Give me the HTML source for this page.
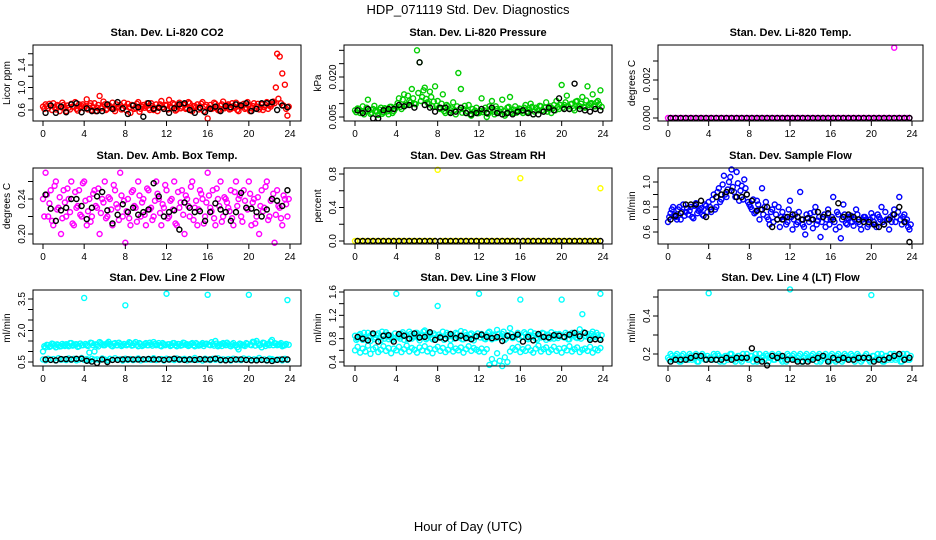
<!DOCTYPE html>
<html><head><meta charset="utf-8">
<style>
html,body{margin:0;padding:0;background:#fff;}
svg{display:block;font-family:"Liberation Sans",Arial,sans-serif;}
</style></head>
<body>
<svg id="chart" width="936" height="540" viewBox="0 0 936 540" xmlns="http://www.w3.org/2000/svg">
<text x="468" y="14" font-size="13" text-anchor="middle">HDP_071119  Std. Dev. Diagnostics</text>
<text x="468" y="531" font-size="13" text-anchor="middle">Hour of Day (UTC)</text>
<g id="panels"></g>
</svg>
<script>
// ---- shared tick data ----
const xTicks = [0,4,8,12,16,20,24];

// ---- Panel 1: CO2 ----
const co2Color = [.66,.70,.63,.68,.72,.61,.67,.65,.69,.58,.64,.71,.66,.62,.70,.67,.63,.79,.68,.60,.72,.64,.85,.66,.70,.62,.67,.73,.58,.65,.69,.63,.66,.71,.55,.68,.64,.74,.62,.69,.67,.63,.72,.60,.70,.65,.76,.62,.68,.78,.64,.70,.61,.73,.66,.69,.63,.72,.58,.67,.70,.64,.74,.66,.45,.69,.63,.71,.60,.68,.75,.65,.70,.62,.67,.73,.58,.66,.71,.64,.69,.63,.72,.66,.61,.70,.65,.74,.68,.70,.72,1.6,1.55,1.25,1.05,.50];
const co2Color2 = [.62,.67,.71,.60,.65,.69,.58,.73,.63,.68,.61,.66,.74,.59,.64,.70,.67,.61,.72,.65,.58,.69,.63,.75,.60,.68,.64,.62,.70,.66,.61,.73,.59,.65,.69,.62,.71,.57,.66,.64,.72,.60,.67,.63,.58,.70,.65,.69,.61,.66,.72,.59,.68,.63,.70,.62,.74,.60,.67,.65,.61,.71,.58,.69,.64,.62,.73,.66,.59,.70,.63,.68,.61,.72,.64,.60,.69,.66,.62,.74,.58,.67,.63,.71,.65,.60,.69,.62,.66,.75,1.0,.80,.72,.68,.62,.66];
const co2Black = [.55,.68,.55,.66,.56,.70,.72,.56,.63,.58,.58,.58,.70,.62,.74,.63,.53,.68,.65,.48,.72,.62,.64,.62,.55,.63,.70,.72,.60,.55,.64,.56,.62,.66,.58,.67,.65,.70,.68,.72,.58,.62,.72,.72,.74,.60,.68,.65];
// ---- Panel 2: Pressure ----
const presColor = [.0075,.0082,.0065,.0090,.0070,.0115,.0062,.0080,.0073,.0058,.0085,.0068,.0079,.0060,.0088,.0072,.0090,.0120,.0080,.0135,.0095,.0110,.0155,.0100,.0300,.0255,.0125,.0160,.0105,.0145,.0090,.0165,.0110,.0080,.0135,.0065,.0090,.0075,.0105,.0060,.0215,.0155,.0080,.0065,.0095,.0055,.0070,.0085,.0065,.0120,.0075,.0050,.0090,.0110,.0060,.0080,.0070,.0115,.0055,.0085,.0125,.0065,.0090,.0075,.0080,.0065,.0095,.0070,.0100,.0060,.0085,.0075,.0090,.0070,.0105,.0080,.0065,.0095,.0110,.0080,.0170,.0095,.0130,.0080,.0100,.0075,.0110,.0090,.0125,.0085,.0165,.0100,.0135,.0090,.0110,.0150];
const presColor2 = [.0068,.0080,.0072,.0060,.0085,.0075,.0066,.0092,.0070,.0078,.0062,.0083,.0071,.0088,.0065,.0080,.0102,.0088,.0115,.0095,.0130,.0105,.0120,.0098,.0140,.0110,.0150,.0118,.0098,.0125,.0108,.0092,.0085,.0100,.0072,.0095,.0068,.0082,.0076,.0090,.0078,.0066,.0092,.0072,.0060,.0080,.0074,.0064,.0072,.0068,.0085,.0062,.0078,.0070,.0090,.0065,.0080,.0072,.0062,.0088,.0070,.0078,.0066,.0082,.0072,.0085,.0068,.0078,.0088,.0070,.0080,.0092,.0076,.0085,.0070,.0090,.0082,.0075,.0088,.0095,.0085,.0105,.0090,.0098,.0082,.0108,.0092,.0100,.0088,.0112,.0095,.0102,.0090,.0105,.0098,.0088];
const presBlack = [.0075,.0065,.0080,.0045,.0045,.0075,.0080,.0080,.0095,.0090,.0095,.0085,.0255,.0095,.0085,.0070,.0085,.0085,.0065,.0070,.0085,.0065,.0060,.0065,.0080,.0065,.0085,.0065,.0060,.0065,.0060,.0070,.0075,.0065,.0060,.0060,.0070,.0085,.0075,.0120,.0080,.0080,.0175,.0080,.0075,.0070,.0080,.0075];
// ---- Panel 3: Li-820 Temp ----
const tempColor = [0,0,0,0,0,0,0,0,0,0,0,0,0,0,0,0,0,0,0,0,0,0,0,0,0,0,0,0,0,0,0,0,0,0,0,0,0,0,0,0,0,0,0,0,0,0,0,0,0,0,0,0,0,0,0,0,0,0,0,0,0,0,0,0,0,0,0,0,0,0,0,0,0,0,0,0,0,0,0,0,0,0,0,0,0,0,0,0,0,.0037,0,0,0,0,0,0];
const tempBlack = [0,0,0,0,0,0,0,0,0,0,0,0,0,0,0,0,0,0,0,0,0,0,0,0,0,0,0,0,0,0,0,0,0,0,0,0,0,0,0,0,0,0,0,0,0,0,0,0];
// ---- Panel 4: Amb Box Temp ----
const ambColor = [.24,.27,.22,.25,.21,.26,.23,.20,.25,.22,.24,.26,.21,.23,.25,.22,.26,.21,.24,.22,.25,.23,.20,.24,.26,.22,.24,.21,.25,.23,.27,.22,.19,.24,.21,.25,.23,.26,.22,.24,.21,.25,.23,.22,.26,.24,.21,.23,.25,.22,.24,.26,.21,.23,.25,.20,.24,.22,.26,.23,.21,.25,.24,.22,.27,.23,.25,.21,.24,.26,.22,.24,.23,.25,.21,.26,.24,.22,.25,.23,.26,.21,.24,.22,.20,.25,.23,.26,.22,.24,.19,.25,.23,.21,.24,.22];
const ambColor2 = [.22,.245,.235,.215,.255,.228,.242,.218,.236,.252,.225,.212,.248,.232,.222,.258,.238,.226,.214,.246,.232,.252,.224,.236,.218,.242,.228,.256,.234,.216,.244,.238,.226,.218,.248,.232,.214,.244,.236,.222,.252,.228,.216,.238,.246,.224,.234,.256,.218,.238,.228,.212,.248,.236,.222,.244,.232,.254,.216,.238,.228,.246,.212,.236,.244,.226,.218,.252,.232,.214,.242,.236,.226,.218,.248,.232,.244,.214,.238,.228,.246,.236,.212,.242,.232,.226,.254,.216,.238,.246,.222,.232,.218,.244,.234,.24];
const ambBlack = [.245,.229,.215,.227,.230,.240,.240,.232,.217,.230,.243,.248,.227,.212,.222,.234,.225,.230,.222,.225,.228,.258,.243,.220,.225,.227,.205,.236,.230,.225,.226,.215,.225,.235,.228,.225,.215,.225,.247,.230,.229,.225,.220,.228,.240,.238,.232,.250];
// ---- Panel 5: Gas Stream RH ----
const rhColor = [0,0,0,0,0,0,0,0,0,0,0,0,0,0,0,0,0,0,0,0,0,0,0,0,0,0,0,0,0,0,0,0,.85,0,0,0,0,0,0,0,0,0,0,0,0,0,0,0,0,0,0,0,0,0,0,0,0,0,0,0,0,0,0,0,.75,0,0,0,0,0,0,0,0,0,0,0,0,0,0,0,0,0,0,0,0,0,0,0,0,0,0,0,0,0,0,.63];
const rhBlack = [0,0,0,0,0,0,0,0,0,0,0,0,0,0,0,0,0,0,0,0,0,0,0,0,0,0,0,0,0,0,0,0,0,0,0,0,0,0,0,0,0,0,0,0,0,0,0,0];
// ---- Panel 6: Sample Flow ----
const sampColor = [.68,.75,.80,.72,.78,.70,.82,.76,.74,.80,.71,.83,.77,.79,.73,.81,.84,.76,.90,.80,.95,.86,1.05,.88,1.0,1.1,.92,1.08,.85,.97,1.02,.90,.82,.78,.75,.85,.70,.95,.80,.72,.66,.78,.82,.70,.64,.76,.72,.68,.85,.62,.74,.68,.92,.66,.58,.71,.75,.63,.80,.69,.56,.72,.64,.78,.70,.88,.62,.74,.55,.82,.67,.71,.73,.65,.78,.68,.62,.72,.70,.66,.75,.68,.64,.72,.80,.66,.70,.62,.68,.78,.72,.88,.66,.74,.70,.62];
const sampColor2 = [.72,.78,.74,.70,.80,.76,.73,.79,.77,.72,.81,.75,.78,.74,.82,.76,.80,.86,.78,.92,.84,.98,.90,.94,1.04,.96,.88,.99,.93,.86,.95,.84,.80,.86,.76,.82,.78,.74,.84,.70,.76,.68,.74,.80,.72,.70,.66,.78,.72,.70,.66,.76,.70,.64,.74,.68,.70,.76,.66,.72,.68,.74,.70,.66,.72,.68,.76,.64,.70,.74,.66,.72,.68,.70,.74,.66,.70,.72,.64,.70,.72,.66,.74,.70,.68,.76,.70,.72,.74,.68,.76,.70,.72,.68,.64,.66];
const sampBlack = [.70,.73,.75,.82,.82,.82,.85,.72,.78,.88,.90,.92,.93,.88,.88,.90,.85,.77,.78,.80,.64,.70,.70,.72,.74,.72,.70,.71,.70,.76,.72,.75,.70,.83,.72,.74,.72,.70,.68,.68,.66,.64,.66,.70,.74,.80,.68,.52];
// ---- Panel 7: Line 2 Flow ----
const l2Upper = [1.0,1.2,1.3,1.25,1.35,1.2,1.3,1.25,1.3,1.35,1.25,1.4,1.3,1.35,1.25,1.3,3.55,1.3,0.95,1.4,1.0,1.3,1.45,1.35,1.3,1.4,1.35,1.25,1.4,1.3,1.35,1.3,3.2,1.35,1.4,1.3,1.45,1.25,1.35,1.3,1.4,1.3,1.35,1.45,1.3,1.4,1.25,1.35,3.75,1.35,1.3,1.4,1.25,1.35,1.3,1.4,1.35,1.3,1.4,1.25,1.35,1.3,1.4,1.35,3.7,1.3,1.35,1.5,1.25,1.35,1.4,1.3,1.35,1.25,1.4,1.3,1.1,1.35,1.3,1.4,3.7,1.3,1.45,1.5,1.3,1.2,1.4,1.35,1.3,1.55,1.4,1.3,1.35,1.25,1.3,3.45];
const l2Upper2 = [1.25,1.32,1.22,1.38,1.28,1.34,1.24,1.36,1.26,1.3,1.4,1.28,1.34,1.22,1.38,1.3,1.36,1.26,1.42,1.3,1.34,1.24,1.4,1.3,1.36,1.46,1.28,1.38,1.3,1.42,1.26,1.36,1.3,1.44,1.28,1.38,1.32,1.4,1.26,1.36,1.3,1.42,1.28,1.36,1.32,1.28,1.4,1.3,1.34,1.26,1.4,1.3,1.36,1.28,1.42,1.32,1.26,1.36,1.3,1.4,1.28,1.34,1.26,1.38,1.32,1.44,1.28,1.38,1.3,1.26,1.36,1.42,1.28,1.34,1.3,1.2,1.38,1.3,1.26,1.36,1.32,1.46,1.28,1.38,1.32,1.42,1.26,1.36,1.48,1.3,1.38,1.32,1.4,1.28,1.36,1.32];
const l2Lower = [.62,.58,.66,.60,.64,.57,.68,.61,.63,.59,.67,.60,.65,.58,.62,.69,.60,.64,.57,.66,.61,.63,.59,.67,.62,.58,.65,.60,.68,.61,.63,.57,.66,.60,.64,.59,.62,.67,.58,.63,.61,.65,.60,.68,.59,.62,.64,.57,.66,.61,.63,.59,.67,.60,.62,.65,.58,.64,.61,.69,.60,.63,.57,.66,.62,.59,.65,.61,.68,.58,.63,.60,.64,.57,.66,.61,.62,.59,.67,.60,.65,.58,.63,.61,.69,.60,.62,.57,.66,.64,.59,.61,.63,.58,.65,.60];
const l2Black = [.62,.60,.58,.64,.64,.62,.65,.66,.56,.52,.45,.62,.50,.60,.60,.62,.63,.62,.62,.63,.64,.62,.63,.60,.62,.66,.62,.60,.62,.60,.64,.62,.62,.66,.60,.58,.60,.62,.62,.60,.58,.58,.60,.58,.55,.60,.62,.62];
// ---- Panel 8: Line 3 Flow ----
const l3Upper = [.85,.80,.88,.78,.83,.90,.76,.86,.82,.89,.77,.84,.91,.79,.85,.81,1.57,.83,.88,.78,.86,.92,.80,.84,.90,.77,.85,.94,.81,.88,.79,.86,1.36,.84,.92,.80,.87,.78,.85,.90,.82,.93,.79,.86,.81,.89,.77,.84,1.57,.88,.80,.86,.92,.79,.85,.95,.82,.88,.78,.86,.98,.81,.84,.90,1.47,.83,.88,.79,.92,.85,.80,.87,.82,.89,.78,.86,.91,.80,.84,.88,1.47,.82,.87,.79,.90,.85,.81,.96,1.22,.84,.88,.80,.92,.83,.86,1.57];
const l3Upper2 = [.78,.86,.82,.90,.80,.84,.88,.79,.86,.82,.92,.80,.87,.83,.78,.89,.84,.80,.91,.85,.79,.88,.83,.90,.81,.86,.92,.79,.85,.82,.89,.80,.87,.83,.78,.90,.84,.86,.80,.88,.85,.79,.91,.83,.87,.80,.86,.89,.82,.85,.79,.90,.84,.87,.81,.88,.83,.92,.80,.85,.88,.82,.86,.79,.84,.91,.80,.86,.83,.89,.78,.85,.90,.82,.87,.80,.84,.88,.81,.86,.83,.90,.79,.85,.88,.82,.86,.80,.91,.84,.82,.88,.85,.90,.80,.86];
const l3Lower = [.60,.66,.56,.63,.58,.68,.54,.62,.65,.57,.61,.67,.59,.64,.55,.63,.60,.66,.57,.62,.68,.58,.64,.61,.56,.65,.60,.67,.58,.63,.55,.62,.66,.59,.64,.57,.61,.68,.58,.63,.60,.65,.56,.62,.67,.59,.64,.61,.58,.63,.57,.62,.35,.45,.38,.55,.42,.33,.48,.40,.58,.64,.61,.66,.57,.62,.59,.65,.60,.56,.63,.68,.58,.62,.65,.57,.61,.66,.59,.63,.56,.64,.60,.67,.58,.62,.65,.57,.61,.63,.59,.66,.56,.62,.60,.64];
const l3Black = [.83,.80,.77,.89,.75,.85,.86,.75,.88,.85,.80,.89,.82,.83,.91,.78,.82,.80,.88,.81,.85,.81,.79,.84,.87,.83,.81,.83,.76,.85,.83,.87,.75,.83,.77,.88,.83,.82,.86,.85,.83,.87,.90,.84,.90,.78,.79,.78];
// ---- Panel 9: Line 4 (LT) Flow ----
const l4Color = [.18,.20,.17,.19,.18,.16,.20,.18,.17,.19,.18,.20,.16,.18,.19,.17,.52,.18,.20,.17,.19,.18,.16,.19,.18,.20,.17,.18,.19,.16,.18,.20,.17,.19,.18,.16,.20,.18,.17,.19,.18,.20,.17,.18,.19,.16,.18,.20,.54,.19,.17,.18,.20,.16,.19,.18,.17,.20,.18,.19,.16,.18,.20,.17,.19,.18,.16,.20,.18,.17,.19,.18,.20,.17,.18,.19,.16,.18,.20,.17,.51,.19,.17,.18,.20,.16,.19,.18,.17,.20,.18,.19,.16,.18,.20,.17];
const l4Color2 = [.17,.19,.18,.20,.16,.19,.17,.18,.20,.17,.19,.16,.18,.20,.17,.19,.18,.17,.19,.20,.16,.18,.19,.17,.20,.18,.16,.19,.17,.20,.18,.17,.19,.16,.20,.18,.17,.19,.20,.16,.18,.17,.19,.20,.17,.18,.16,.19,.18,.20,.17,.19,.16,.18,.20,.17,.19,.18,.16,.20,.17,.19,.18,.16,.20,.17,.19,.18,.16,.20,.18,.17,.19,.16,.20,.18,.17,.19,.18,.16,.19,.17,.20,.18,.16,.19,.17,.20,.18,.17,.19,.16,.20,.18,.17,.19];
const l4Black = [.16,.17,.17,.17,.18,.19,.19,.17,.17,.17,.17,.18,.17,.18,.18,.18,.23,.17,.16,.14,.19,.18,.19,.17,.17,.16,.16,.16,.17,.18,.19,.16,.18,.17,.18,.17,.17,.18,.18,.18,.16,.17,.17,.18,.19,.20,.17,.18];

// ---- y tick data ----
const co2Ticks=[0.6,0.8,1.0,1.2,1.4,1.6], co2Labels=['0.6','','1.0','','1.4',''];
const presTicks=[0.005,0.010,0.015,0.020,0.025,0.030], presLabels=['0.005','','','0.020','',''];
const tempTicks=[0,0.001,0.002,0.003], tempLabels=['0.000','','0.002',''];
const ambTicks=[0.20,0.22,0.24,0.26], ambLabels=['0.20','','0.24',''];
const rhTicks=[0,0.2,0.4,0.6,0.8], rhLabels=['0.0','','0.4','','0.8'];
const sampTicks=[0.6,0.7,0.8,0.9,1.0], sampLabels=['0.6','','0.8','','1.0'];
const l2Ticks=[0.5,1.0,1.5,2.0,2.5,3.0,3.5], l2Labels=['0.5','','','2.0','','','3.5'];
const l3Ticks=[0.4,0.6,0.8,1.0,1.2,1.4,1.6], l3Labels=['0.4','','0.8','','1.2','','1.6'];
const l4Ticks=[0.2,0.3,0.4,0.5], l4Labels=['0.2','','0.4',''];

// layout (pixels)
const cols=[{l:33,r:301,x0:43,x24:290},{l:344,r:612,x0:355,x24:603},{l:658,r:923,x0:668,x24:912}];
const rows=[{t:45,b:121},{t:168,b:244},{t:290,b:366}];
const NS='http://www.w3.org/2000/svg';
const root=document.getElementById('panels');
function mk(tag,attrs,parent){const e=document.createElementNS(NS,tag);for(const k in attrs)e.setAttribute(k,attrs[k]);parent.appendChild(e);return e;}

const panels=[
 {id:'co2',title:'Stan. Dev. Li-820 CO2',yl:'Licor ppm',c:0,r:0,col:'#ff0000',series:[co2Color],series2:[co2Color2],blk:co2Black,ticks:co2Ticks,labels:co2Labels,v1:0.6,p1:110,v2:1.4,p2:65},
 {id:'pressure',title:'Stan. Dev. Li-820 Pressure',yl:'kPa',c:1,r:0,col:'#00cd00',series:[presColor],series2:[presColor2],blk:presBlack,ticks:presTicks,labels:presLabels,v1:0.005,p1:117,v2:0.020,p2:77},
 {id:'li820-temp',title:'Stan. Dev. Li-820 Temp.',yl:'degrees C',c:2,r:0,col:'#ff00ff',series:[tempColor],series2:[],blk:tempBlack,ticks:tempTicks,labels:tempLabels,v1:0,p1:118,v2:0.002,p2:80},
 {id:'amb-box-temp',title:'Stan. Dev. Amb. Box Temp.',yl:'degrees C',c:0,r:1,col:'#ff00ff',series:[ambColor],series2:[ambColor2],blk:ambBlack,ticks:ambTicks,labels:ambLabels,v1:0.20,p1:234,v2:0.24,p2:199},
 {id:'gas-stream-rh',title:'Stan. Dev. Gas Stream RH',yl:'percent',c:1,r:1,col:'#ffff00',series:[rhColor],series2:[],blk:rhBlack,ticks:rhTicks,labels:rhLabels,v1:0,p1:241,v2:0.8,p2:174},
 {id:'sample-flow',title:'Stan. Dev. Sample Flow',yl:'ml/min',c:2,r:1,col:'#0000ff',series:[sampColor],series2:[sampColor2],blk:sampBlack,ticks:sampTicks,labels:sampLabels,v1:0.6,p1:232,v2:1.0,p2:182},
 {id:'line2-flow',title:'Stan. Dev. Line 2 Flow',yl:'ml/min',c:0,r:2,col:'#00ffff',series:[l2Upper,l2Lower],series2:[l2Upper2],blk:l2Black,ticks:l2Ticks,labels:l2Labels,v1:0.5,p1:362,v2:3.5,p2:299},
 {id:'line3-flow',title:'Stan. Dev. Line 3 Flow',yl:'ml/min',c:1,r:2,col:'#00ffff',series:[l3Upper,l3Lower],series2:[l3Upper2],blk:l3Black,ticks:l3Ticks,labels:l3Labels,v1:0.4,p1:362,v2:1.6,p2:292},
 {id:'line4-flow',title:'Stan. Dev. Line 4 (LT) Flow',yl:'ml/min',c:2,r:2,col:'#00ffff',series:[l4Color],series2:[l4Color2],blk:l4Black,ticks:l4Ticks,labels:l4Labels,v1:0.2,p1:354,v2:0.4,p2:316}
];

panels.forEach(p=>{
 const C=cols[p.c],R=rows[p.r];
 const xs=h=>C.x0+(C.x24-C.x0)*h/24;
 const ys=v=>p.p1+(p.p2-p.p1)*(v-p.v1)/(p.v2-p.v1);
 const g=mk('g',{},root);
 
 
 const tt=mk('text',{x:(C.l+C.r)/2,y:R.t-9,'font-size':11,'font-weight':'bold','text-anchor':'middle'},g);
 tt.textContent=p.title;
 
 
 const yt=mk('text',{x:0,y:0,'font-size':10,'text-anchor':'middle',transform:`translate(${C.l-23},${(R.t+R.b)/2}) rotate(-90)`},g);
 yt.textContent=p.yl;
 
 
 // points
 const pts=mk('g',{fill:'none','stroke-width':1.4},g);
 
 
 p.series.forEach(s=>{s.forEach((v,i)=>{
   const c=mk('circle',{cx:xs(i*0.25),cy:ys(v),r:2.5,stroke:p.col},pts);
   
   
 });});
 p.series2.forEach(s=>{s.forEach((v,i)=>{
   const c=mk('circle',{cx:xs(0.125+i*0.25),cy:ys(v),r:2.5,stroke:p.col},pts);
   
   
 });});
 p.blk.forEach((v,i)=>{
   const c=mk('circle',{cx:xs(0.25+i*0.5),cy:ys(v),r:2.5,stroke:'#000'},pts);
   
   
 });
 // box
 const bx=mk('rect',{x:C.l,y:R.t,width:C.r-C.l,height:R.b-R.t,fill:'none',stroke:'#000','stroke-width':1},g);
 
 
 // x axis
 const xa=mk('g',{},g);
 
 
 mk('line',{x1:xs(0),x2:xs(24),y1:R.b,y2:R.b,stroke:'#000'},xa);
 xTicks.forEach(h=>{
  mk('line',{x1:xs(h),x2:xs(h),y1:R.b,y2:R.b+5,stroke:'#000'},xa);
  const t=mk('text',{x:xs(h),y:R.b+16,'font-size':10,'text-anchor':'middle'},xa);
  t.textContent=String(h);
 });
 // y axis
 const ya=mk('g',{},g);
 
 
 p.ticks.forEach((v,i)=>{
  const y=ys(v);
  mk('line',{x1:C.l-5,x2:C.l,y1:y,y2:y,stroke:'#000'},ya);
  if(p.labels[i]){
   const t=mk('text',{x:0,y:0,'font-size':10,'text-anchor':'middle',transform:`translate(${C.l-8},${y}) rotate(-90)`},ya);
   t.textContent=p.labels[i];
  }
 });
 mk('line',{x1:C.l,x2:C.l,y1:ys(p.ticks[0]),y2:ys(p.ticks[p.ticks.length-1]),stroke:'#000'},ya);
});
</script>
</body></html>
